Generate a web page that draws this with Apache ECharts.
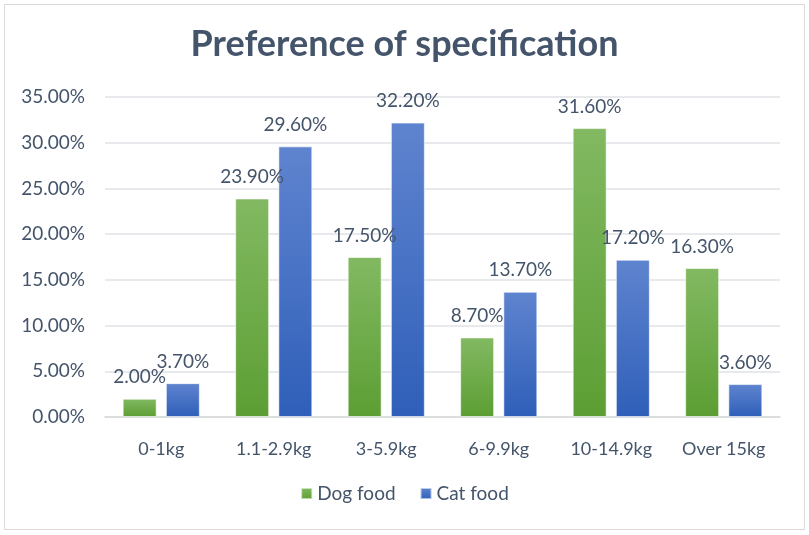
<!DOCTYPE html>
<html>
<head>
<meta charset="utf-8">
<script src="https://cdn.jsdelivr.net/npm/echarts@6/dist/echarts.min.js"></script>
<style>
html,body{margin:0;padding:0;background:#fff;}
#main{width:809px;height:535px;}
</style>
</head>
<body>
<div id="main"></div>
<script>
var categories = ['0-1kg', '1.1-2.9kg', '3-5.9kg', '6-9.9kg', '10-14.9kg', 'Over 15kg'];
var dogFood = [2.0, 23.9, 17.5, 8.7, 31.6, 16.3];
var catFood = [3.7, 29.6, 32.2, 13.7, 17.2, 3.6];
var seriesNames = ['Dog food', 'Cat food'];

var textColor = '#44546a';
var fontFam = 'Lato, "Open Sans", sans-serif';

function grad(top, bottom) {
	return new echarts.graphic.LinearGradient(0, 0, 0, 1, [
		{offset: 0, color: top},
		{offset: 1, color: bottom}
	]);
}

var myChart = echarts.init(document.getElementById('main'));
var option = {
	animation: false,
	graphic: [{
		type: 'rect',
		shape: {x: 4.5, y: 4.5, width: 800, height: 525},
		style: {fill: 'none', stroke: '#d9d9d9', lineWidth: 1},
		silent: true
	}],
	title: {
		text: 'Preference of specification',
		left: 'center',
		top: 21,
		textStyle: {fontFamily: fontFam, fontSize: 36, fontWeight: 'bold', color: textColor}
	},
	legend: {
		bottom: 27,
		left: 'center',
		itemWidth: 11,
		itemHeight: 11,
		itemGap: 24,
		icon: 'rect',
		textStyle: {fontFamily: fontFam, fontSize: 19, color: textColor},
		data: seriesNames
	},
	grid: {left: 105, right: 29, top: 97, bottom: 118, containLabel: false},
	xAxis: {
		type: 'category',
		data: categories,
		axisTick: {show: false},
		axisLine: {show: true, lineStyle: {color: '#d9d9d9', width: 1.5}},
		axisLabel: {fontFamily: fontFam, fontSize: 18, color: textColor, margin: 23, interval: 0, hideOverlap: false}
	},
	yAxis: {
		type: 'value',
		min: 0,
		max: 35,
		interval: 5,
		axisLine: {show: false},
		axisTick: {show: false},
		splitLine: {lineStyle: {color: '#dfe2e6', width: 1.5}},
		axisLabel: {
			fontFamily: fontFam, fontSize: 19, color: textColor, margin: 20,
			formatter: function (v) { return v.toFixed(2) + '%'; }
		}
	},
	series: [
		{
			name: seriesNames[0],
			type: 'bar',
			data: dogFood,
			barWidth: 34,
			barGap: '27%',
			itemStyle: {color: grad('#82b962', '#5c9e33'), borderColor: 'rgba(255,255,255,0.6)', borderWidth: 1},
			label: {
				show: true, position: 'top', distance: 12,
				fontFamily: fontFam, fontSize: 19, color: textColor,
				formatter: function (p) { return p.value.toFixed(2) + '%'; }
			}
		},
		{
			name: seriesNames[1],
			type: 'bar',
			data: catFood,
			barWidth: 34,
			itemStyle: {color: grad('#5f84cf', '#2f5fb9'), borderColor: 'rgba(255,255,255,0.6)', borderWidth: 1},
			label: {
				show: true, position: 'top', distance: 12,
				fontFamily: fontFam, fontSize: 19, color: textColor,
				formatter: function (p) { return p.value.toFixed(2) + '%'; }
			}
		}
	]
};
// legend icons use flat colours
option.color = ['#6aab41', '#4472c4'];
myChart.setOption(option);
</script>
</body>
</html>
